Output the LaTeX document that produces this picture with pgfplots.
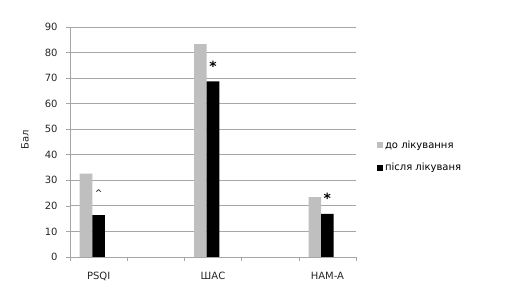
\documentclass[border=0pt]{standalone}
\usepackage{pgfplots}
\pgfplotsset{compat=1.18}
\usepackage{fontspec}
\setmainfont{DejaVu Sans}
\definecolor{bargray}{HTML}{BFBFBF}
\definecolor{gridgray}{HTML}{A6A6A6}
\newcommand\annA{\raisebox{9bp}{\fontsize{9bp}{12bp}\selectfont\textasciicircum}}
\newcommand\annB{{\fontsize{14bp}{16bp}\selectfont\bfseries *}}
\begin{document}
\begin{tikzpicture}
\path[use as bounding box] (0,0) rectangle (509bp,298bp);
\begin{axis}[
  at={(70bp,41bp)}, anchor=south west,
  scale only axis,
  width=286bp, height=230bp,
  ybar, bar width=0.22,
  xmin=-0.5, xmax=4.5,
  ymin=0, ymax=90,
  ytick={0,10,...,90},
  xtick={0,2,4},
  xticklabels={PSQI,ШАС,HAM-A},
  minor xtick={-0.5,0.5,1.5,2.5,3.5,4.5},
  tick align=outside,
  major x tick style={draw=none},
  minor tick length=4bp,
  major tick length=4bp,
  tick style={gridgray, line width=0.6pt},
  ymajorgrids,
  grid style={gridgray, line width=0.8pt},
  axis x line*=bottom, axis y line*=left,
  axis line style={gridgray, line width=0.8pt, -},
  ticklabel style={font=\fontsize{10bp}{12bp}\selectfont, text=black!85},
  /pgf/number format/assume math mode=true,
  xticklabel style={yshift=-8bp},
  yticklabel style={xshift=-5bp},
  ylabel={Бал},
  ylabel style={at={(axis description cs:-0.157,0.509)}, anchor=center, font=\fontsize{10bp}{12bp}\selectfont, text=black!85},
  legend style={draw=none, fill=none, at={(1.073,0.437)}, anchor=west, inner sep=0pt,
    font=\fontsize{10bp}{12bp}\selectfont, row sep=9bp, legend cell align=left,
    /tikz/every even column/.append style={column sep=0pt}},
  legend image code/.code={\fill[#1] (0bp,-3bp) rectangle (6bp,3bp);},
  nodes near coords={\pgfplotspointmeta},
  every node near coord/.append style={anchor=base, yshift=10bp, text=black},
]
\addplot[fill=bargray, draw=none, bar shift=-0.22, nodes near coords={}] coordinates {(0,32.6) (2,83.3) (4,23.4)};
\addplot[fill=black, draw=none, bar shift=0, point meta=explicit symbolic] coordinates {(0,16.4) [\annA] (2,68.7) [\annB] (4,16.9) [\annB]};
\legend{до лікування, після лікуваня}
\end{axis}
\end{tikzpicture}
\end{document}
